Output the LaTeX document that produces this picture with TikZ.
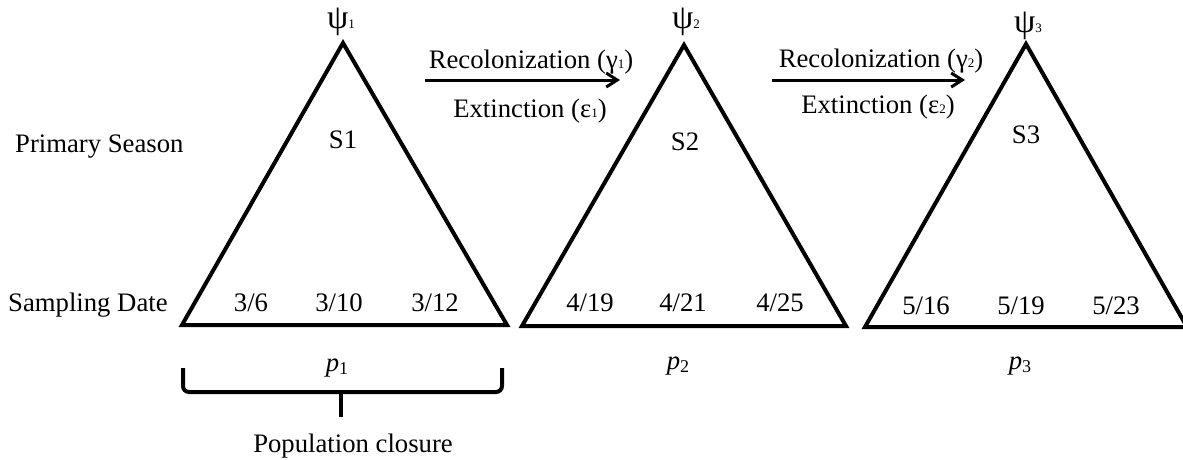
\documentclass[tikz,border=0pt]{standalone}
\usepackage{fontspec}
\setmainfont{Liberation Serif}
\usetikzlibrary{arrows.meta}
\newcommand\mysub[1]{{\fontsize{13}{14}\selectfont #1}}
\newcommand\psub[1]{\raisebox{-3pt}{\fontsize{18}{20}\selectfont #1}}
\newcommand\bigpsi{{\fontsize{34}{36}\selectfont ψ}}
\begin{document}
\begin{tikzpicture}[x=1pt,y=-1pt,
  lbl/.style={inner sep=0pt, anchor=base, font=\fontsize{26.7}{32}\selectfont},
  lblw/.style={lbl, anchor=base west},
  tri/.style={line width=4pt, line join=miter},
  trans/.style={line width=3pt, -{Straight Barb[length=11pt,width=14pt,line width=3pt]}},
  bracestyle/.style={line width=4pt, rounded corners=6pt}]
\useasboundingbox (0,0) rectangle (1183,459);

% triangles
\coordinate (t1a) at (343,43);  \coordinate (t1l) at (182,325); \coordinate (t1r) at (507,325);
\coordinate (t2a) at (684,45);  \coordinate (t2l) at (522,326); \coordinate (t2r) at (846,326);
\coordinate (t3a) at (1026,44); \coordinate (t3l) at (865,327); \coordinate (t3r) at (1187,327);
\draw[tri] (t1a) -- (t1r) -- (t1l) -- cycle;
\draw[tri] (t2a) -- (t2r) -- (t2l) -- cycle;
\draw[tri] (t3a) -- (t3r) -- (t3l) -- cycle;

% psi labels
\node[lbl] (psi1) at (341,28) {\bigpsi\mysub{1}};
\node[lbl] (psi2) at (686,28) {\bigpsi\mysub{2}};
\node[lbl] (psi3) at (1028,32) {\bigpsi\mysub{3}};

% season labels
\node[lbl] (s1) at (343,148) {S1};
\node[lbl] (s2) at (685,150) {S2};
\node[lbl] (s3) at (1026,143) {S3};

% row labels
\node[lblw] (primary) at (15,152) {Primary Season};
\node[lblw] (sampling) at (8,311) {Sampling Date};

% dates
\node[lbl] (d11) at (251,311) {3/6};
\node[lbl] (d12) at (339,311) {3/10};
\node[lbl] (d13) at (435,311) {3/12};
\node[lbl] (d21) at (590,311) {4/19};
\node[lbl] (d22) at (683,311) {4/21};
\node[lbl] (d23) at (780,311) {4/25};
\node[lbl] (d31) at (926,314) {5/16};
\node[lbl] (d32) at (1021,314) {5/19};
\node[lbl] (d33) at (1116,314) {5/23};

% detection probabilities
\node[lbl] (p1) at (337,371) {\textit{p}\psub{1}};
\node[lbl] (p2) at (678,369) {\textit{p}\psub{2}};
\node[lbl] (p3) at (1020,369) {\textit{p}\psub{3}};

% transitions
\coordinate (a1s) at (425,80); \coordinate (a1e) at (620,80);
\coordinate (a2s) at (772,80); \coordinate (a2e) at (965,80);
\draw[trans] (a1s) -- (a1e);
\draw[trans] (a2s) -- (a2e);
\node[lbl] (rec1) at (531,68) {Recolonization (γ\mysub{1})};
\node[lbl] (ext1) at (530,117) {Extinction (ε\mysub{1})};
\node[lbl] (rec2) at (881,67) {Recolonization (γ\mysub{2})};
\node[lbl] (ext2) at (878,113) {Extinction (ε\mysub{2})};

% brace
\coordinate (bl) at (183,368); \coordinate (br) at (502,368); \coordinate (bm) at (341,417);
\draw[bracestyle] (bl) -- (183,392) -- (502,392) -- (br);
\draw[line width=4pt] (341,390) -- (bm);
\node[lbl] (closure) at (353,452) {Population closure};
\end{tikzpicture}
\end{document}
